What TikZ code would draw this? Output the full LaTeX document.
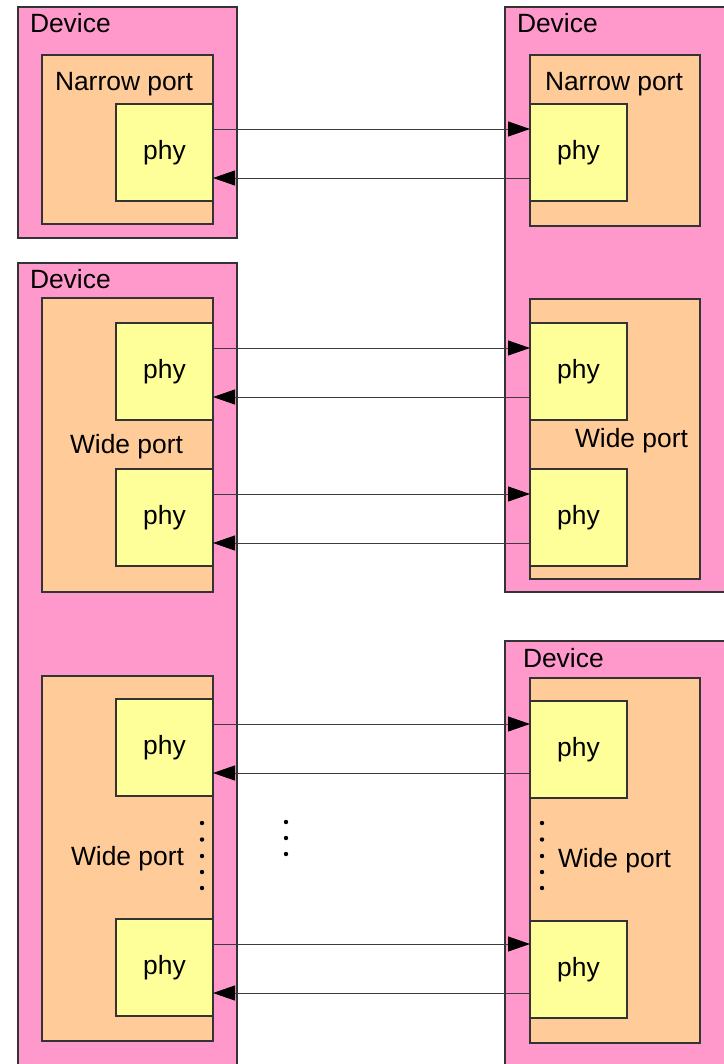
\documentclass[tikz,border=0pt]{standalone}
\usepackage{fontspec}
\setmainfont{Liberation Sans}
\usetikzlibrary{arrows.meta}
\definecolor{devpink}{RGB}{255,153,204}
\definecolor{portorange}{RGB}{255,204,153}
\definecolor{phyyellow}{RGB}{255,255,153}
\definecolor{linegray}{RGB}{60,60,60}
\tikzset{
  box/.style={draw=black!80, line width=1.1pt, inner sep=0pt, outer sep=0pt, anchor=north west},
  devbox/.style={box, fill=devpink},
  portbox/.style={box, fill=portorange},
  phybox/.style={box, fill=phyyellow, minimum width=97pt, minimum height=97pt, font=\fontsize{26.4}{30}\selectfont},
  lbl/.style={inner sep=0pt, outer sep=0pt, anchor=base west, font=\fontsize{26.4}{30}\selectfont},
  conn/.style={draw=linegray, line width=0.9pt, -{Triangle[length=22pt, width=15pt, color=black]}},
  dotmark/.style={fill=black}
}
\begin{document}
\begin{tikzpicture}[x=1pt, y=-1pt]
\useasboundingbox (0,0) rectangle (723,1064);
% devices
\node[devbox, minimum width=219pt, minimum height=231pt] (dL1) at (18,7) {};
\node[devbox, minimum width=219pt, minimum height=810pt] (dL2) at (18,263) {};
\node[devbox, minimum width=225pt, minimum height=585pt] (dR1) at (505,7) {};
\node[devbox, minimum width=225pt, minimum height=430pt] (dR2) at (505,641) {};
% ports
\node[portbox, minimum width=171pt, minimum height=169pt] (tL1) at (42,55) {};
\node[portbox, minimum width=171pt, minimum height=294pt] (tL2) at (42,298) {};
\node[portbox, minimum width=171pt, minimum height=365pt] (tL3) at (42,676) {};
\node[portbox, minimum width=170pt, minimum height=171pt] (tR1) at (530,55) {};
\node[portbox, minimum width=170pt, minimum height=280pt] (tR2) at (530,299) {};
\node[portbox, minimum width=170pt, minimum height=365pt] (tR3) at (530,678) {};
% phys
\node[phybox] (pL1) at (116,104) {phy};
\node[phybox] (pL2) at (116,323) {phy};
\node[phybox] (pL3) at (116,469) {phy};
\node[phybox] (pL4) at (116,699) {phy};
\node[phybox] (pL5) at (116,919) {phy};
\node[phybox] (pR1) at (530,104) {phy};
\node[phybox] (pR2) at (530,323) {phy};
\node[phybox] (pR3) at (530,469) {phy};
\node[phybox] (pR4) at (530,701) {phy};
\node[phybox] (pR5) at (530,921) {phy};
% labels
\node[lbl] (lD1) at (30,33) {Device};
\node[lbl] (lD2) at (30,288) {Device};
\node[lbl] (lD3) at (517,33) {Device};
\node[lbl] (lD4) at (523,667) {Device};
\node[lbl] (lN1) at (55,91) {Narrow port};
\node[lbl] (lN2) at (545,91) {Narrow port};
\node[lbl] (lW1) at (70,453) {Wide port};
\node[lbl] (lW2) at (575,447) {Wide port};
\node[lbl] (lW3) at (71,865) {Wide port};
\node[lbl] (lW4) at (558,867) {Wide port};
% connectors
\foreach \a/\b in {pL1/pR1,pL2/pR2,pL3/pR3,pL4/pR4,pL5/pR5}{
  \draw[conn] ([yshift=-25pt]\a.north east) -- ([yshift=-25pt]\a.north east -| \b.west);
  \draw[conn] ([yshift=-74pt]\a.north east -| \b.west) -- ([yshift=-74pt]\a.north east);
}
% dots
\foreach \yy in {823,839.5,856,872,888}{
  \fill[dotmark] (202,\yy) circle (2.2pt);
  \fill[dotmark] (542,\yy) circle (2.2pt);
}
\foreach \yy in {822,838,854}{
  \fill[dotmark] (286,\yy) circle (2.2pt);
}
\end{tikzpicture}
\end{document}
